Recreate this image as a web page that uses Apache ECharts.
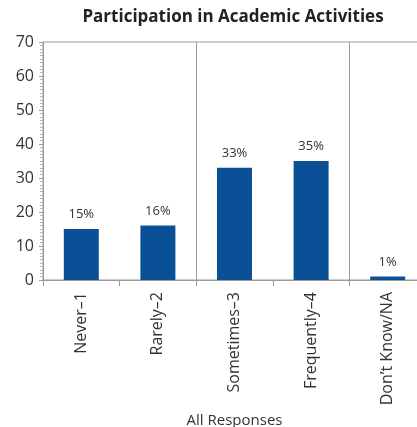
<!DOCTYPE html>
<html>
<head>
<meta charset="utf-8">
<script src="https://cdn.jsdelivr.net/npm/echarts@6/dist/echarts.min.js"></script>
<style>
  html, body { margin: 0; padding: 0; background: #fff; }
  #chart { width: 417px; height: 427px; }
</style>
</head>
<body>
<div id="chart"></div>
<script>
// chart data
const categories = ["Never\u20131", "Rarely\u20132", "Sometimes\u20133", "Frequently\u20134", "Don\u2019t Know/NA"];
const percents = [15, 16, 33, 35, 1];
const yTicks = [0, 10, 20, 30, 40, 50, 60, 70];

const fontFamily = "'Open Sans', 'Liberation Sans', sans-serif";
const gray = "#9a9a9a";

const chart = echarts.init(document.getElementById("chart"));
chart.setOption({
  animation: false,
  title: {
    text: "Participation in Academic Activities",
    left: 228,
    textAlign: "center",
    top: 4,
    textStyle: { color: "#222", fontSize: 17, fontWeight: "bold", fontFamily: fontFamily }
  },
  grid: {
    left: 43,
    top: 42,
    width: 383,
    bottom: 147,
    outerBoundsMode: "none",
    show: true,
    borderColor: gray,
    borderWidth: 1
  },
  xAxis: {
    type: "category",
    data: categories,
    name: "All Responses",
    nameLocation: "middle",
    nameGap: 128,
    nameTextStyle: { color: "#333", fontSize: 15, fontFamily: fontFamily },
    axisLine: { lineStyle: { color: gray } },
    axisTick: {
      show: true,
      interval: 0,
      length: 6,
      lineStyle: { color: gray }
    },
    axisLabel: {
      rotate: 90,
      margin: 12,
      interval: 0,
      color: "#333",
      fontSize: 16,
      fontFamily: fontFamily
    },
    splitLine: {
      show: true,
      interval: function (index) { return index === 2 || index === 4; },
      lineStyle: { color: gray, width: 1 }
    }
  },
  yAxis: {
    type: "value",
    min: yTicks[0],
    max: yTicks[yTicks.length - 1],
    interval: 10,
    axisLine: { show: true, lineStyle: { color: gray } },
    axisTick: { show: true, length: 4, lineStyle: { color: gray } },
    minorTick: { show: true, splitNumber: 10, length: 3, lineStyle: { color: "#b5b5b5" } },
    axisLabel: { color: "#333", fontSize: 16, margin: 9, fontFamily: fontFamily },
    splitLine: { show: false }
  },
  series: [{
    type: "bar",
    data: percents,
    barWidth: 35,
    itemStyle: { color: "#0a5096" },
    label: {
      show: true,
      position: "top",
      distance: 8,
      formatter: "{c}%",
      color: "#333",
      fontSize: 13,
      fontFamily: fontFamily
    }
  }]
});
</script>
</body>
</html>
